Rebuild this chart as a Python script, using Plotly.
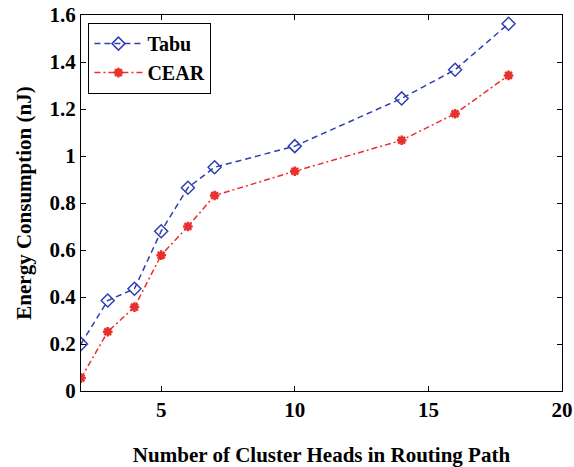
import plotly.graph_objects as go

x_vals = [2, 3, 4, 5, 6, 7, 10, 14, 16, 18]
tabu = [0.20, 0.385, 0.435, 0.68, 0.865, 0.952, 1.042, 1.245, 1.367, 1.563]
cear = [0.055, 0.252, 0.357, 0.578, 0.70, 0.832, 0.935, 1.067, 1.18, 1.343]
y_ticks = [0, 0.2, 0.4, 0.6, 0.8, 1.0, 1.2, 1.4, 1.6]
y_tick_labels = ["0", "0.2", "0.4", "0.6", "0.8", "1", "1.2", "1.4", "1.6"]
x_ticks = [5, 10, 15, 20]

font_family = "Liberation Serif"

fig = go.Figure()
fig.add_trace(go.Scatter(
    x=x_vals, y=tabu, name="Tabu", mode="lines+markers",
    line=dict(color="#2f3fae", width=1.5, dash="6px,4px"),
    marker=dict(symbol="diamond-open", size=10, color="#2f3fae", line=dict(width=1.5, color="#2f3fae")),
))
fig.add_trace(go.Scatter(
    x=x_vals, y=cear, name="CEAR", mode="lines+markers",
    line=dict(color="#e8302e", width=1.5, dash="6px,3px,2px,3px"),
    marker=dict(symbol="asterisk-open", size=8, color="#e8302e", line=dict(width=2.5, color="#e8302e")),
))

axis_common = dict(
    showline=True, linecolor="black", linewidth=1.2, mirror="ticks",
    ticks="inside", ticklen=5, tickcolor="black", tickwidth=1,
    showgrid=False, zeroline=False, automargin=False, ticklabeloverflow="allow",
    tickfont=dict(family=font_family, size=21, color="black", weight="bold"),
)

fig.update_xaxes(range=[2, 20], tickvals=x_ticks, **axis_common,
                 title=dict(text="<b>Number of Cluster Heads in Routing Path</b>",
                            font=dict(family=font_family, size=21, color="black"), standoff=27))
fig.update_yaxes(range=[0, 1.6], tickvals=y_ticks, ticktext=y_tick_labels, **axis_common,
                 title=dict(text="<b>Energy Consumption (nJ)</b>",
                            font=dict(family=font_family, size=21, color="black"), standoff=12))

fig.update_layout(
    width=574, height=467,
    margin=dict(l=81, r=12, t=15, b=76),
    plot_bgcolor="white", paper_bgcolor="white",
    legend=dict(x=0.015, y=0.979, xanchor="left", yanchor="top",
                bordercolor="black", borderwidth=1.2, bgcolor="white",
                tracegroupgap=0, itemwidth=48,
                font=dict(family=font_family, size=20, color="black", weight="bold")),
)

fig.write_html("out.html", config={"displayModeBar": False},
               post_script="document.body.style.margin='0';document.body.style.overflow='hidden';")
